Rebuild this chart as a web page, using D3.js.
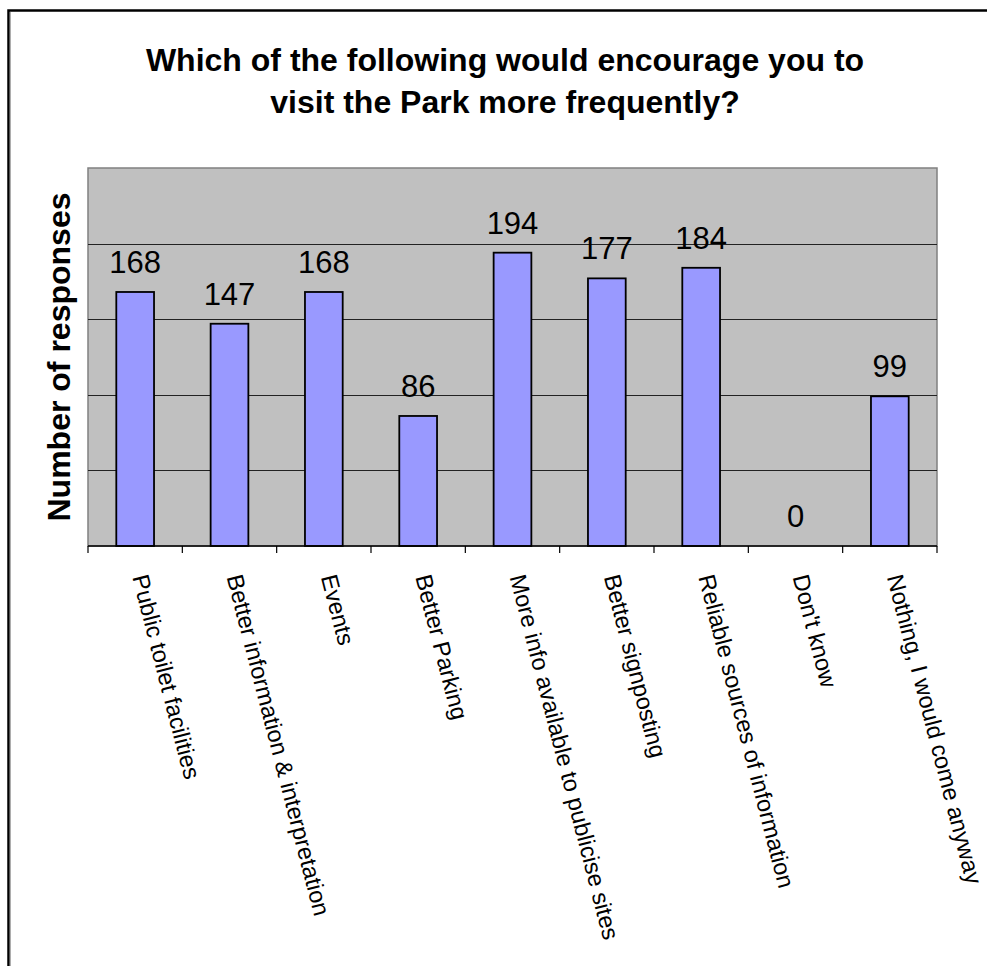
<!DOCTYPE html>
<html>
<head>
<meta charset="utf-8">
<script src="https://cdn.jsdelivr.net/npm/d3@7"></script>
<style>
  html, body { margin: 0; padding: 0; background: #fff; }
  svg { display: block; }
  text { font-family: "Liberation Sans", Arial, Helvetica, sans-serif; fill: #000; }
</style>
</head>
<body>
<svg id="chart" width="987" height="966"></svg>
<script>
// Survey answers: what would encourage more frequent visits to the Park
const categories = [
  "Public toilet facilities",
  "Better information & interpretation",
  "Events",
  "Better Parking",
  "More info available to publicise sites",
  "Better signposting",
  "Reliable sources of information",
  "Don't know",
  "Nothing, I would come anyway"
];
const responses = [168, 147, 168, 86, 194, 177, 184, 0, 99];
const gridValues = [50, 100, 150, 200];
const titleLines = [
  "Which of the following would encourage you to",
  "visit the Park more frequently?"
];
const yAxisTitle = "Number of responses";

const svg = d3.select("#chart");
const W = 987, H = 966;

// Plot area bounds
const plot = { left: 88, right: 937, top: 168, bottom: 546 };

svg.append("rect").attr("width", W).attr("height", H).attr("fill", "#fff");

// Chart frame (top and left edges visible)
svg.append("path")
  .attr("d", `M8.5,${H + 5} V10.5 H${W + 5}`)
  .attr("fill", "none").attr("stroke", "#000").attr("stroke-width", 2.5);
svg.append("line")
  .attr("x1", 10.3).attr("x2", 10.3).attr("y1", 12).attr("y2", H)
  .attr("stroke", "#999").attr("stroke-width", 1);

const x = d3.scaleBand()
  .domain(categories)
  .range([plot.left, plot.right])
  .paddingInner(0.6)
  .paddingOuter(0.3);

const y = d3.scaleLinear()
  .domain([0, 250])
  .range([plot.bottom, plot.top]);

// Plot background
svg.append("rect")
  .attr("x", plot.left).attr("y", plot.top)
  .attr("width", plot.right - plot.left).attr("height", plot.bottom - plot.top)
  .attr("fill", "#C0C0C0").attr("stroke", "#808080").attr("stroke-width", 1.5);

// Horizontal gridlines
svg.append("g").selectAll("line").data(gridValues).join("line")
  .attr("x1", plot.left).attr("x2", plot.right)
  .attr("y1", d => Math.round(y(d)) + 0.5).attr("y2", d => Math.round(y(d)) + 0.5)
  .attr("stroke", "#222").attr("stroke-width", 1);

// Bars
svg.append("g").selectAll("rect").data(responses).join("rect")
  .attr("x", (d, i) => x(categories[i]))
  .attr("y", d => y(d))
  .attr("width", x.bandwidth())
  .attr("height", d => y(0) - y(d))
  .attr("fill", "#9999FF")
  .attr("stroke", "#000").attr("stroke-width", 1.8);

// Category axis with tick marks between categories
const tickPositions = d3.range(categories.length + 1).map(i => plot.left + i * (plot.right - plot.left) / categories.length);
const axisG = svg.append("g");
axisG.append("line")
  .attr("x1", plot.left).attr("x2", plot.right)
  .attr("y1", plot.bottom).attr("y2", plot.bottom)
  .attr("stroke", "#000").attr("stroke-width", 1.5);
axisG.selectAll("line.tick").data(tickPositions).join("line")
  .attr("class", "tick")
  .attr("x1", d => d).attr("x2", d => d)
  .attr("y1", plot.bottom).attr("y2", plot.bottom + 7)
  .attr("stroke", "#000").attr("stroke-width", 1.2);

// Rotated category labels
const cx = c => x(c) + x.bandwidth() / 2;
svg.append("g").selectAll("text").data(categories).join("text")
  .attr("transform", d => `translate(${cx(d) - 3},${plot.bottom + 31}) rotate(75.5)`)
  .attr("text-anchor", "start")
  .attr("font-size", 23.5)
  .text(d => d);

// Value labels above bars
svg.append("g").selectAll("text").data(responses).join("text")
  .attr("x", (d, i) => cx(categories[i]))
  .attr("y", d => y(d) - 19)
  .attr("text-anchor", "middle")
  .attr("font-size", 31)
  .text(d => d);

// Title
svg.append("g").selectAll("text").data(titleLines).join("text")
  .attr("x", 505)
  .attr("y", (d, i) => 71 + i * 42)
  .attr("text-anchor", "middle")
  .attr("font-size", 32)
  .attr("font-weight", "bold")
  .text(d => d);

// Value axis title
svg.append("text")
  .attr("transform", `translate(70,${(plot.top + plot.bottom) / 2}) rotate(-90)`)
  .attr("text-anchor", "middle")
  .attr("font-size", 32)
  .attr("font-weight", "bold")
  .text(yAxisTitle);
</script>
</body>
</html>
